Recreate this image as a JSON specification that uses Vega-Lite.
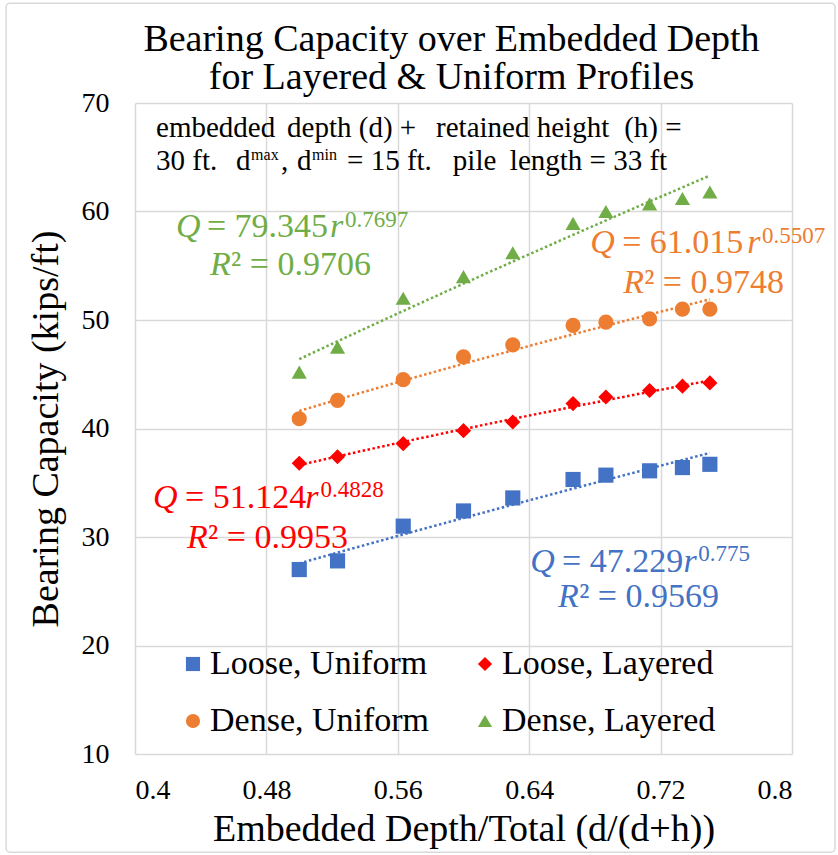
{
  "$schema": "https://vega.github.io/schema/vega-lite/v6.json",
  "width": 657,
  "height": 651,
  "autosize": {"type": "none"},
  "padding": {"left": 135, "top": 103, "right": 46, "bottom": 101},
  "background": "white",
  "title": {
    "text": ["Bearing Capacity over Embedded Depth", "for Layered & Uniform Profiles"],
    "fontSize": 38, "font": "Liberation Serif, Times New Roman, Times, DejaVu Serif, serif", "fontWeight": "normal", "color": "black",
    "anchor": "middle", "dx": -12, "offset": -95, "lineHeight": 38
  },
  "datasets": {
    "bearing": [
      {"series": "Loose, Uniform", "ratio": 0.5, "capacity": 27.0},
      {"series": "Loose, Uniform", "ratio": 0.5233, "capacity": 27.8},
      {"series": "Loose, Uniform", "ratio": 0.5633, "capacity": 31.0},
      {"series": "Loose, Uniform", "ratio": 0.6, "capacity": 32.4},
      {"series": "Loose, Uniform", "ratio": 0.63, "capacity": 33.6},
      {"series": "Loose, Uniform", "ratio": 0.6667, "capacity": 35.3},
      {"series": "Loose, Uniform", "ratio": 0.6867, "capacity": 35.7},
      {"series": "Loose, Uniform", "ratio": 0.7133, "capacity": 36.1},
      {"series": "Loose, Uniform", "ratio": 0.7333, "capacity": 36.4},
      {"series": "Loose, Uniform", "ratio": 0.75, "capacity": 36.7},
      {"series": "Loose, Layered", "ratio": 0.5, "capacity": 36.8},
      {"series": "Loose, Layered", "ratio": 0.5233, "capacity": 37.4},
      {"series": "Loose, Layered", "ratio": 0.5633, "capacity": 38.6},
      {"series": "Loose, Layered", "ratio": 0.6, "capacity": 39.8},
      {"series": "Loose, Layered", "ratio": 0.63, "capacity": 40.6},
      {"series": "Loose, Layered", "ratio": 0.6667, "capacity": 42.3},
      {"series": "Loose, Layered", "ratio": 0.6867, "capacity": 42.9},
      {"series": "Loose, Layered", "ratio": 0.7133, "capacity": 43.5},
      {"series": "Loose, Layered", "ratio": 0.7333, "capacity": 43.9},
      {"series": "Loose, Layered", "ratio": 0.75, "capacity": 44.2},
      {"series": "Dense, Uniform", "ratio": 0.5, "capacity": 40.9},
      {"series": "Dense, Uniform", "ratio": 0.5233, "capacity": 42.6},
      {"series": "Dense, Uniform", "ratio": 0.5633, "capacity": 44.5},
      {"series": "Dense, Uniform", "ratio": 0.6, "capacity": 46.6},
      {"series": "Dense, Uniform", "ratio": 0.63, "capacity": 47.7},
      {"series": "Dense, Uniform", "ratio": 0.6667, "capacity": 49.5},
      {"series": "Dense, Uniform", "ratio": 0.6867, "capacity": 49.8},
      {"series": "Dense, Uniform", "ratio": 0.7133, "capacity": 50.1},
      {"series": "Dense, Uniform", "ratio": 0.7333, "capacity": 51.0},
      {"series": "Dense, Uniform", "ratio": 0.75, "capacity": 51.0},
      {"series": "Dense, Layered", "ratio": 0.5, "capacity": 45.2},
      {"series": "Dense, Layered", "ratio": 0.5233, "capacity": 47.5},
      {"series": "Dense, Layered", "ratio": 0.5633, "capacity": 52.0},
      {"series": "Dense, Layered", "ratio": 0.6, "capacity": 54.0},
      {"series": "Dense, Layered", "ratio": 0.63, "capacity": 56.2},
      {"series": "Dense, Layered", "ratio": 0.6667, "capacity": 58.9},
      {"series": "Dense, Layered", "ratio": 0.6867, "capacity": 60.0},
      {"series": "Dense, Layered", "ratio": 0.7133, "capacity": 60.7},
      {"series": "Dense, Layered", "ratio": 0.7333, "capacity": 61.2},
      {"series": "Dense, Layered", "ratio": 0.75, "capacity": 61.8}
    ]
  },
  "layer": [
    {
      "data": {"values": [{}]},
      "mark": {"type": "rect", "fill": null, "stroke": "#d9d9d9", "strokeWidth": 1.5, "cornerRadius": 4},
      "encoding": {
        "x": {"datum": 0.3215},
        "x2": {"datum": 0.8262},
        "y": {"datum": 79.2},
        "y2": {"datum": 0.95}
      }
    },
    {
      "data": {"name": "bearing"},
      "mark": {"type": "point", "filled": true, "opacity": 1, "size": 230},
      "encoding": {
        "x": {
          "field": "ratio", "type": "quantitative",
          "scale": {"domain": [0.4, 0.8], "nice": false, "zero": false},
          "axis": {"values": [0.4, 0.48, 0.56, 0.64, 0.72, 0.8], "format": ".2~f", "title": "Embedded Depth/Total (d/(d+h))", "labelPadding": 22, "titlePadding": 6}
        },
        "y": {
          "field": "capacity", "type": "quantitative",
          "scale": {"domain": [10, 70], "nice": false, "zero": false},
          "axis": {"values": [10, 20, 30, 40, 50, 60, 70], "title": "Bearing Capacity (kips/ft)", "labelPadding": 26, "titlePadding": 16}
        },
        "color": {
          "field": "series", "type": "nominal",
          "scale": {"domain": ["Loose, Uniform", "Loose, Layered", "Dense, Uniform", "Dense, Layered"], "range": ["#4472C4", "#FF0000", "#ED7D31", "#70AD47"]},
          "legend": {"title": null, "orient": "none", "direction": "horizontal", "legendX": 41, "legendY": 544, "columns": 2, "columnPadding": 38, "rowPadding": 23, "labelFontSize": 34, "labelFont": "Liberation Serif, Times New Roman, Times, DejaVu Serif, serif", "labelColor": "black", "symbolSize": 200, "labelOffset": 0, "symbolStrokeWidth": 0, "labelLimit": 0}
        },
        "shape": {
          "field": "series", "type": "nominal",
          "scale": {"domain": ["Loose, Uniform", "Loose, Layered", "Dense, Uniform", "Dense, Layered"], "range": ["square", "diamond", "circle", "triangle-up"]}
        }
      }
    },
    {
      "data": {"name": "bearing"},
      "transform": [
        {"regression": "capacity", "on": "ratio", "groupby": ["series"], "method": "pow", "extent": [0.5, 0.75]}
      ],
      "mark": {"type": "line", "strokeDash": [2.5, 2.5], "strokeWidth": 2.5},
      "encoding": {
        "x": {"field": "ratio", "type": "quantitative"},
        "y": {"field": "capacity", "type": "quantitative"},
        "stroke": {
          "field": "series", "type": "nominal", "legend": null,
          "scale": {"domain": ["Loose, Uniform", "Loose, Layered", "Dense, Uniform", "Dense, Layered"], "range": ["#4472C4", "#FF0000", "#ED7D31", "#70AD47"]}
        }
      }
    },
    {"data": {"values": [{}]}, "mark": {"type": "text", "text": "embedded", "align": "left", "baseline": "alphabetic", "fontSize": 29, "color": "black"}, "encoding": {"x": {"datum": 0.4128}, "y": {"datum": 66.87}}},
    {"data": {"values": [{}]}, "mark": {"type": "text", "text": "depth (d) +", "align": "left", "baseline": "alphabetic", "fontSize": 29, "color": "black"}, "encoding": {"x": {"datum": 0.4926}, "y": {"datum": 66.87}}},
    {"data": {"values": [{}]}, "mark": {"type": "text", "text": "retained height", "align": "left", "baseline": "alphabetic", "fontSize": 29, "color": "black"}, "encoding": {"x": {"datum": 0.5833}, "y": {"datum": 66.87}}},
    {"data": {"values": [{}]}, "mark": {"type": "text", "text": "(h) =", "align": "left", "baseline": "alphabetic", "fontSize": 29, "color": "black"}, "encoding": {"x": {"datum": 0.6978}, "y": {"datum": 66.87}}},
    {"data": {"values": [{}]}, "mark": {"type": "text", "text": "30 ft.", "align": "left", "baseline": "alphabetic", "fontSize": 29, "color": "black"}, "encoding": {"x": {"datum": 0.4128}, "y": {"datum": 63.82}}},
    {"data": {"values": [{}]}, "mark": {"type": "text", "text": "d", "align": "left", "baseline": "alphabetic", "fontSize": 29, "color": "black"}, "encoding": {"x": {"datum": 0.4615}, "y": {"datum": 63.82}}},
    {"data": {"values": [{}]}, "mark": {"type": "text", "text": "max", "align": "left", "baseline": "alphabetic", "fontSize": 16, "color": "black"}, "encoding": {"x": {"datum": 0.4707}, "y": {"datum": 64.75}}},
    {"data": {"values": [{}]}, "mark": {"type": "text", "text": ",", "align": "left", "baseline": "alphabetic", "fontSize": 29, "color": "black"}, "encoding": {"x": {"datum": 0.4889}, "y": {"datum": 63.82}}},
    {"data": {"values": [{}]}, "mark": {"type": "text", "text": "d", "align": "left", "baseline": "alphabetic", "fontSize": 29, "color": "black"}, "encoding": {"x": {"datum": 0.4986}, "y": {"datum": 63.82}}},
    {"data": {"values": [{}]}, "mark": {"type": "text", "text": "min", "align": "left", "baseline": "alphabetic", "fontSize": 16, "color": "black"}, "encoding": {"x": {"datum": 0.5078}, "y": {"datum": 64.75}}},
    {"data": {"values": [{}]}, "mark": {"type": "text", "text": "= 15 ft.", "align": "left", "baseline": "alphabetic", "fontSize": 29, "color": "black"}, "encoding": {"x": {"datum": 0.5291}, "y": {"datum": 63.82}}},
    {"data": {"values": [{}]}, "mark": {"type": "text", "text": "pile", "align": "left", "baseline": "alphabetic", "fontSize": 29, "color": "black"}, "encoding": {"x": {"datum": 0.5935}, "y": {"datum": 63.82}}},
    {"data": {"values": [{}]}, "mark": {"type": "text", "text": "length = 33 ft", "align": "right", "baseline": "alphabetic", "fontSize": 29, "color": "black"}, "encoding": {"x": {"datum": 0.724}, "y": {"datum": 63.82}}},

    {"data": {"values": [{}]}, "mark": {"type": "text", "text": "Q", "align": "left", "baseline": "alphabetic", "fontSize": 34, "fontStyle": "italic", "color": "#70AD47"}, "encoding": {"x": {"datum": 0.425}, "y": {"datum": 57.65}}},
    {"data": {"values": [{}]}, "mark": {"type": "text", "text": "= 79.345", "align": "left", "baseline": "alphabetic", "fontSize": 34, "color": "#70AD47"}, "encoding": {"x": {"datum": 0.4438}, "y": {"datum": 57.65}}},
    {"data": {"values": [{}]}, "mark": {"type": "text", "text": "r", "align": "left", "baseline": "alphabetic", "fontSize": 34, "fontStyle": "italic", "color": "#70AD47"}, "encoding": {"x": {"datum": 0.5187}, "y": {"datum": 57.65}}},
    {"data": {"values": [{}]}, "mark": {"type": "text", "text": "0.7697", "align": "left", "baseline": "alphabetic", "fontSize": 23, "color": "#70AD47"}, "encoding": {"x": {"datum": 0.5279}, "y": {"datum": 58.57}}},
    {"data": {"values": [{}]}, "mark": {"type": "text", "text": "R", "align": "left", "baseline": "alphabetic", "fontSize": 34, "fontStyle": "italic", "color": "#70AD47"}, "encoding": {"x": {"datum": 0.4457}, "y": {"datum": 54.15}}},
    {"data": {"values": [{}]}, "mark": {"type": "text", "text": "² = 0.9706", "align": "left", "baseline": "alphabetic", "fontSize": 34, "color": "#70AD47"}, "encoding": {"x": {"datum": 0.4585}, "y": {"datum": 54.15}}},

    {"data": {"values": [{}]}, "mark": {"type": "text", "text": "Q", "align": "left", "baseline": "alphabetic", "fontSize": 34, "fontStyle": "italic", "color": "#FF0000"}, "encoding": {"x": {"datum": 0.411}, "y": {"datum": 32.67}}},
    {"data": {"values": [{}]}, "mark": {"type": "text", "text": "= 51.124", "align": "left", "baseline": "alphabetic", "fontSize": 34, "color": "#FF0000"}, "encoding": {"x": {"datum": 0.4305}, "y": {"datum": 32.67}}},
    {"data": {"values": [{}]}, "mark": {"type": "text", "text": "r", "align": "left", "baseline": "alphabetic", "fontSize": 34, "fontStyle": "italic", "color": "#FF0000"}, "encoding": {"x": {"datum": 0.5037}, "y": {"datum": 32.67}}},
    {"data": {"values": [{}]}, "mark": {"type": "text", "text": "0.4828", "align": "left", "baseline": "alphabetic", "fontSize": 23, "color": "#FF0000"}, "encoding": {"x": {"datum": 0.5129}, "y": {"datum": 33.68}}},
    {"data": {"values": [{}]}, "mark": {"type": "text", "text": "R", "align": "left", "baseline": "alphabetic", "fontSize": 34, "fontStyle": "italic", "color": "#FF0000"}, "encoding": {"x": {"datum": 0.4317}, "y": {"datum": 28.98}}},
    {"data": {"values": [{}]}, "mark": {"type": "text", "text": "² = 0.9953", "align": "left", "baseline": "alphabetic", "fontSize": 34, "color": "#FF0000"}, "encoding": {"x": {"datum": 0.4445}, "y": {"datum": 28.98}}},

    {"data": {"values": [{}]}, "mark": {"type": "text", "text": "Q", "align": "left", "baseline": "alphabetic", "fontSize": 34, "fontStyle": "italic", "color": "#ED7D31"}, "encoding": {"x": {"datum": 0.6771}, "y": {"datum": 56.17}}},
    {"data": {"values": [{}]}, "mark": {"type": "text", "text": "= 61.015", "align": "left", "baseline": "alphabetic", "fontSize": 34, "color": "#ED7D31"}, "encoding": {"x": {"datum": 0.6966}, "y": {"datum": 56.17}}},
    {"data": {"values": [{}]}, "mark": {"type": "text", "text": "r", "align": "left", "baseline": "alphabetic", "fontSize": 34, "fontStyle": "italic", "color": "#ED7D31"}, "encoding": {"x": {"datum": 0.7727}, "y": {"datum": 56.17}}},
    {"data": {"values": [{}]}, "mark": {"type": "text", "text": "0.5507", "align": "left", "baseline": "alphabetic", "fontSize": 23, "color": "#ED7D31"}, "encoding": {"x": {"datum": 0.7818}, "y": {"datum": 57.1}}},
    {"data": {"values": [{}]}, "mark": {"type": "text", "text": "R", "align": "left", "baseline": "alphabetic", "fontSize": 34, "fontStyle": "italic", "color": "#ED7D31"}, "encoding": {"x": {"datum": 0.6972}, "y": {"datum": 52.49}}},
    {"data": {"values": [{}]}, "mark": {"type": "text", "text": "² = 0.9748", "align": "left", "baseline": "alphabetic", "fontSize": 34, "color": "#ED7D31"}, "encoding": {"x": {"datum": 0.71}, "y": {"datum": 52.49}}},

    {"data": {"values": [{}]}, "mark": {"type": "text", "text": "Q", "align": "left", "baseline": "alphabetic", "fontSize": 34, "fontStyle": "italic", "color": "#4472C4"}, "encoding": {"x": {"datum": 0.6406}, "y": {"datum": 26.77}}},
    {"data": {"values": [{}]}, "mark": {"type": "text", "text": "= 47.229", "align": "left", "baseline": "alphabetic", "fontSize": 34, "color": "#4472C4"}, "encoding": {"x": {"datum": 0.66}, "y": {"datum": 26.77}}},
    {"data": {"values": [{}]}, "mark": {"type": "text", "text": "r", "align": "left", "baseline": "alphabetic", "fontSize": 34, "fontStyle": "italic", "color": "#4472C4"}, "encoding": {"x": {"datum": 0.7339}, "y": {"datum": 26.77}}},
    {"data": {"values": [{}]}, "mark": {"type": "text", "text": "0.775", "align": "left", "baseline": "alphabetic", "fontSize": 23, "color": "#4472C4"}, "encoding": {"x": {"datum": 0.7429}, "y": {"datum": 27.79}}},
    {"data": {"values": [{}]}, "mark": {"type": "text", "text": "R", "align": "left", "baseline": "alphabetic", "fontSize": 34, "fontStyle": "italic", "color": "#4472C4"}, "encoding": {"x": {"datum": 0.6576}, "y": {"datum": 23.55}}},
    {"data": {"values": [{}]}, "mark": {"type": "text", "text": "² = 0.9569", "align": "left", "baseline": "alphabetic", "fontSize": 34, "color": "#4472C4"}, "encoding": {"x": {"datum": 0.6704}, "y": {"datum": 23.55}}}
  ],
  "config": {
    "view": {"stroke": null},
    "font": "Liberation Serif, Times New Roman, Times, DejaVu Serif, serif",
    "text": {"font": "Liberation Serif, Times New Roman, Times, DejaVu Serif, serif"},
    "axis": {
      "domain": false, "ticks": false, "grid": true, "gridColor": "#d9d9d9", "gridWidth": 1.5,
      "labelFont": "Liberation Serif, Times New Roman, Times, DejaVu Serif, serif", "labelFontSize": 28, "labelColor": "black",
      "titleFont": "Liberation Serif, Times New Roman, Times, DejaVu Serif, serif", "titleFontSize": 38, "titleFontWeight": "normal", "titleColor": "black"
    }
  }
}
